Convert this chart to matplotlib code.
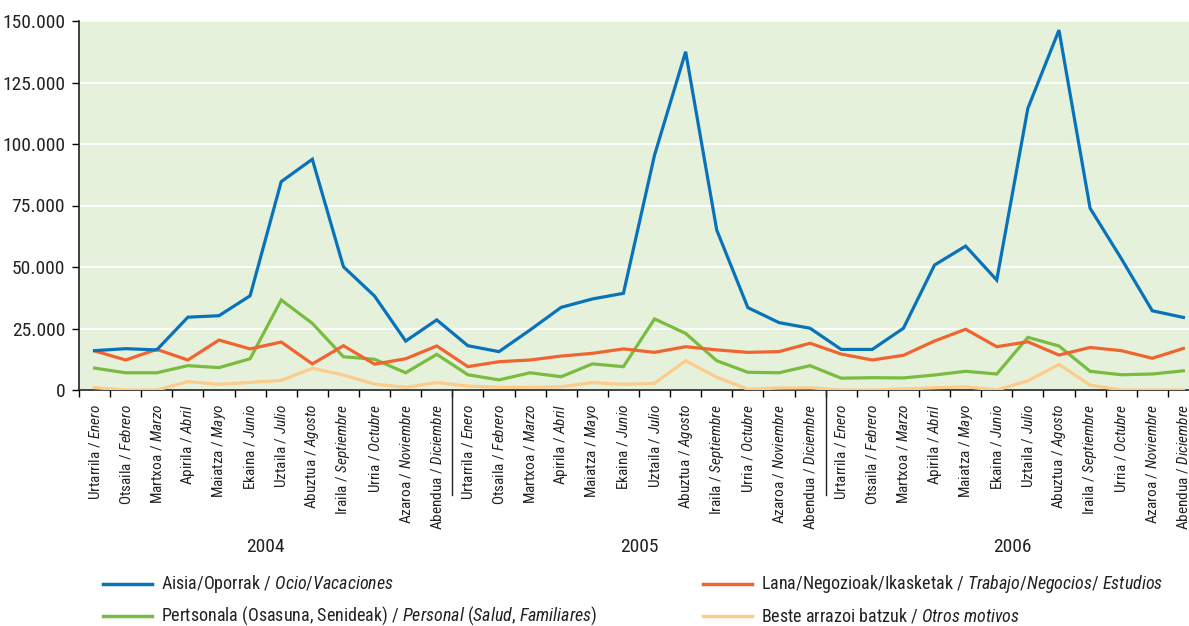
import matplotlib
matplotlib.use("Agg")
import matplotlib.pyplot as plt
from matplotlib import font_manager
from matplotlib.lines import Line2D
import matplotlib.transforms as mtransforms

# pick a condensed face if one is installed
names = set(f.name for f in font_manager.fontManager.ttflist)
fam = "DejaVu Sans"
for cand in ["Liberation Sans Narrow", "DejaVu Sans Condensed", "Roboto Condensed", "Open Sans Condensed"]:
    if cand in names:
        fam = cand
        break

plt.rcParams["font.family"] = fam
plt.rcParams["mathtext.fontset"] = "custom"
plt.rcParams["mathtext.rm"] = fam
plt.rcParams["mathtext.it"] = fam + ":italic"

years = ["2004", "2005", "2006"]
eu_months = ["Urtarrila", "Otsaila", "Martxoa", "Apirila", "Maiatza", "Ekaina",
             "Uztaila", "Abuztua", "Iraila", "Urria", "Azaroa", "Abendua"]
es_months = ["Enero", "Febrero", "Marzo", "Abril", "Mayo", "Junio",
             "Julio", "Agosto", "Septiembre", "Octubre", "Noviembre", "Diciembre"]

ocio = [16000, 16800, 16300, 29600, 30200, 38300, 84700, 93800, 50100, 38200, 19900, 28500,
        18000, 15600, 24400, 33600, 37000, 39300, 95500, 137500, 65000, 33500, 27400, 25100,
        16500, 16500, 25100, 50800, 58500, 44700, 114500, 146300, 73900, 53500, 32200, 29500]
trabajo = [15900, 12200, 16500, 12200, 20300, 16700, 19500, 10600, 18000, 10500, 12700, 17900,
           9500, 11500, 12200, 13800, 14900, 16700, 15300, 17600, 16300, 15300, 15600, 19000,
           14600, 12200, 14100, 19900, 24700, 17600, 19600, 14200, 17300, 16000, 12900, 16900]
personal = [8900, 7000, 7000, 9900, 9100, 12700, 36600, 27100, 13500, 12500, 7000, 14500,
            6200, 4100, 7000, 5400, 10600, 9500, 28900, 23000, 11900, 7200, 7000, 9900,
            4800, 5000, 4900, 6100, 7600, 6500, 21400, 17900, 7600, 6200, 6500, 7800]
otros = [950, 0, 0, 3400, 2300, 3100, 3900, 8800, 6100, 2400, 1100, 3000,
         1600, 1100, 1100, 1300, 3000, 2300, 2700, 11900, 5200, 300, 800, 900,
         0, 0, 400, 900, 1300, 0, 3700, 10400, 2000, 0, 0, 0]

series = [
    (ocio, "#0873BA", r"Aisia/Oporrak / $\mathit{Ocio}$/$\mathit{Vacaciones}$"),
    (trabajo, "#F06430", r"Lana/Negozioak/Ikasketak / $\mathit{Trabajo}$/$\mathit{Negocios}$/ $\mathit{Estudios}$"),
    (personal, "#78BC40", r"Pertsonala (Osasuna, Senideak) / $\mathit{Personal}$ ($\mathit{Salud}$, $\mathit{Familiares}$)"),
    (otros, "#FDCB8C", r"Beste arrazoi batzuk / $\mathit{Otros\ motivos}$"),
]

labels = []
for y in years:
    for eu, es in zip(eu_months, es_months):
        labels.append(eu + r" / $\mathit{" + es + "}$")

fig = plt.figure(figsize=(11.89, 6.26), dpi=100)
ax = fig.add_axes([79 / 1189, 1 - 390 / 626, 1 - 79 / 1189, (390 - 21) / 626])
ax.set_facecolor("#E6F1DC")

x = list(range(len(ocio)))
order = [3, 2, 1, 0]
for i in order:
    vals, col, lab = series[i]
    ax.plot(x, vals, color=col, lw=2.3, solid_joinstyle="miter", zorder=3 + (3 - i))

ax.set_ylim(0, 150000)
ax.set_xlim(-0.5, 35.18)
ax.set_yticks(range(0, 150001, 25000))
ax.set_yticklabels(["0" if v == 0 else "{:,}".format(v).replace(",", ".") for v in range(0, 150001, 25000)],
                   fontsize=14, color="#222222")
ax.yaxis.grid(True, color="white", lw=1.3)
ax.set_axisbelow(True)
ax.tick_params(axis="y", length=5, width=1, direction="out", pad=5)

ax.set_xticks(x)
ax.set_xticklabels(labels, rotation=90, fontsize=11, color="#222222", va="top", ha="center")
ax.tick_params(axis="x", which="major", length=0, pad=10)
ax.set_xticks([i + 0.5 for i in range(-1, 35)], minor=True)
ax.tick_params(axis="x", which="minor", length=5, width=1, direction="out")

for s in ["top", "right"]:
    ax.spines[s].set_visible(False)
for s in ["left", "bottom"]:
    ax.spines[s].set_color("#222222")
    ax.spines[s].set_linewidth(1.2)

trans = mtransforms.blended_transform_factory(ax.transData, ax.transAxes)
for b in [11.5, 23.5]:
    ax.add_line(Line2D([b, b], [0, -0.285], transform=trans, color="#222222", lw=1, clip_on=False))

for k, y in enumerate(years):
    ax.text(5.5 + 12 * k, -0.425, y, transform=trans, ha="center", va="center", fontsize=14, color="#222222")

# legend, drawn by hand
leg_pos = [(103, 584), (703, 584), (103, 616), (703, 616)]
for (vals, col, lab), (px, py) in zip(series, leg_pos):
    fy = 1 - py / 626
    fig.add_artist(Line2D([px / 1189, (px + 49) / 1189], [fy, fy], color=col, lw=2.5))
    fig.text((px + 58) / 1189, fy, lab, fontsize=13, va="center", ha="left", color="#222222")

fig.savefig("out.png", dpi=100)
